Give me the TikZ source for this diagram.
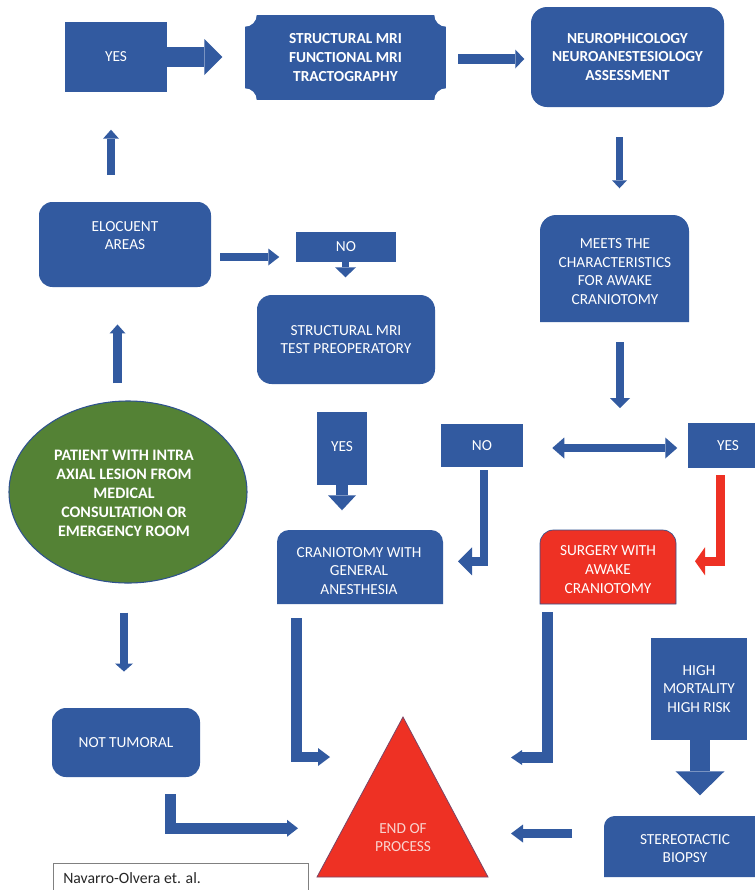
\documentclass[tikz,border=0pt]{standalone}
\usepackage{fontspec}
\setmainfont{Carlito}
\usetikzlibrary{arrows.meta,shapes.geometric,calc}
\definecolor{bl}{HTML}{325AA0}
\definecolor{bd}{HTML}{2F528F}
\definecolor{rd}{HTML}{EE3124}
\definecolor{gr}{HTML}{548235}
\definecolor{pk}{HTML}{F9D3CF}
\begin{document}
\begin{tikzpicture}[x=0.75pt,y=-0.75pt,
  lbl/.style={text=white, font=\fontsize{11.5}{14}\selectfont, align=center, inner sep=0pt},
  blbl/.style={lbl, font=\fontsize{12}{14.3}\selectfont\bfseries},
  sq/.style={lbl, fill=bl},
  rbox/.style={sq, rounded corners=#1},
  barrow/.style={draw=bl, line width=#1},
]
\useasboundingbox (0,0) rectangle (755,890);
\fill[white] (0,0) rectangle (755,890);
\clip (0,0) rectangle (755,890);

% ---------- boxes ----------
\node[sq, minimum width=76.5pt, minimum height=52.5pt] (yes1) at (116,57) {YES};

\node[sq, minimum width=150.75pt, minimum height=63.75pt, font=\fontsize{11.5}{14}\selectfont\bfseries] (smri) at (345.5,57.5) {STRUCTURAL MRI\\FUNCTIONAL MRI\\TRACTOGRAPHY};
\foreach \c in {north west, north east, south west, south east}
  \fill[white] (smri.\c) circle[radius=9pt];

\node[rbox=12pt, minimum width=144.75pt, minimum height=75pt, font=\fontsize{11.5}{14}\selectfont\bfseries] (neuro) at (627.5,57) {NEUROPHICOLOGY\\NEUROANESTESIOLOGY\\ASSESSMENT};

\node[rbox=10pt, minimum width=129pt, minimum height=63.75pt] (eloc) at (125,244.5) {};
\node[lbl] (elocT) at (125,235.5) {ELOCUENT\\AREAS};

\node[sq, minimum width=75pt, minimum height=22.5pt] (no1) at (346,247) {NO};

\node[rbox=11pt, minimum width=133.5pt, minimum height=66.75pt] (smritest) at (346,339.5) {STRUCTURAL MRI\\TEST PREOPERATORY};

\fill[bl] (540,322) [rounded corners=12pt] -- (540,215) -- (689,215) [sharp corners] -- (689,322) -- cycle;
\node[lbl] (meets) at (615,271.5) {MEETS THE\\CHARACTERISTICS\\FOR AWAKE\\CRANIOTOMY};

\node[ellipse, fill=gr, draw=bd, line width=0.8pt, minimum width=178.5pt, minimum height=136.5pt, inner sep=0pt] (patient) at (128,492) {};
\node[blbl] (patientT) at (124,493) {PATIENT WITH INTRA\\AXIAL LESION FROM\\MEDICAL\\CONSULTATION OR\\EMERGENCY ROOM};

\node[sq, minimum width=37.5pt, minimum height=54.75pt, text depth=0pt] (yes2) at (342,448.5) {\raisebox{3pt}{YES}};

\node[sq, minimum width=61.5pt, minimum height=32.25pt] (no2) at (482,445.5) {NO};
\node[sq, minimum width=60pt, minimum height=33.75pt] (yes3) at (728,445.5) {YES};

\fill[bl] (277,604) [rounded corners=9pt] -- (277,530) -- (443,530) [sharp corners] -- (443,604) -- cycle;
\node[lbl] (cran) at (359,571) {CRANIOTOMY WITH\\GENERAL\\ANESTHESIA};

\filldraw[fill=rd, draw=bd, line width=0.5pt] (540,604) [rounded corners=10pt] -- (540,530) -- (676,530) [sharp corners] -- (676,604) -- cycle;
\node[lbl] (surgery) at (608,569.5) {SURGERY WITH\\AWAKE\\CRANIOTOMY};

\node[sq, minimum width=72pt, minimum height=76.5pt] (high) at (699,689) {HIGH\\MORTALITY\\HIGH RISK};

\node[rbox=10.5pt, minimum width=111pt, minimum height=51.75pt] (notum) at (126,742.5) {NOT TUMORAL};

\fill[bl] (604,877) [rounded corners=8pt] -- (604,816) -- (770,816) [sharp corners] -- (770,877) -- cycle;
\node[lbl] (stereo) at (685,848.5) {STEREOTACTIC\\BIOPSY};

\coordinate (tA) at (403,717);
\coordinate (tB) at (488,877);
\coordinate (tC) at (317,877);
\filldraw[fill=rd, draw=bd!60!rd, line width=0.6pt] (tA) -- (tB) -- (tC) -- cycle;
\node[lbl, text=pk] (endp) at (403,837.5) {END OF\\PROCESS};

\draw[gray, line width=0.6pt] (53,863) rectangle (308,905);
\node[anchor=west, inner sep=0pt, font=\fontsize{11.8}{14}\selectfont, text=black!85] (cite) at (63,878) {Navarro-Olvera et. al.};

% ---------- block arrows ----------
\draw[barrow=15pt, -{Triangle[length=13.5pt, width=27pt, line width=0pt]}] (yes1.east) -- ++(55,0);
\draw[barrow=7.5pt, -{Triangle[length=6.75pt, width=14.25pt, line width=0pt]}] ($(smri.east)+(12,1.5)$) -- ++(66,0);
\draw[barrow=5.6pt, -{Triangle[length=6pt, width=11.25pt, line width=0pt]}] ($(neuro.south)+(-8,30)$) -- ++(0,51);
\draw[barrow=6pt, -{Triangle[length=6.75pt, width=12pt, line width=0pt]}] ($(eloc.north)+(-14,-27)$) -- ++(0,-45);
\draw[barrow=6pt, -{Triangle[length=8.25pt, width=12.75pt, line width=0pt]}] ($(eloc.east)+(9,12.5)$) -- ++(59,0);
\draw[barrow=5.25pt, -{Triangle[length=7.5pt, width=15.75pt, line width=0pt]}] ($(no1.south)+(-0.5,0)$) -- ++(0,15);
\draw[barrow=6.75pt, -{Triangle[length=6.75pt, width=12pt, line width=0pt]}] ($(patient.north)+(-10.5,-17)$) -- ++(0,-59);
\draw[barrow=9pt, -{Triangle[length=11.25pt, width=21pt, line width=0pt]}] (yes2.south) -- ++(0,25);
\draw[barrow=7.9pt, -{Triangle[length=9pt, width=13.5pt, line width=0pt]}] ($(cran)+(-62.5,47)$) -- ++(0,139) -- ++(33.5,0);
\draw[barrow=6pt, -{Triangle[length=6pt, width=13.5pt, line width=0pt]}] ($(patient.south)+(-4,29)$) -- ++(0,59);
\draw[barrow=8.25pt, -{Triangle[length=8.25pt, width=12.75pt, line width=0pt]}] ($(notum.south)+(44,17)$) -- ++(0,34) -- ++(128,0);
\draw[barrow=8.25pt, -{Triangle[length=8.25pt, width=11.25pt, line width=0pt]}] ($(surgery)+(-61,42.5)$) -- ++(0,145.5) -- ++(-36,0);
\draw[barrow=15pt, -{Triangle[length=18pt, width=36.75pt, line width=0pt]}] ($(high.south)+(1,0)$) -- ++(0,55);
\draw[barrow=6.75pt, -{Triangle[length=9pt, width=13.5pt, line width=0pt]}] ($(stereo)+(-113,-15)$) -- ++(-61,0);
\draw[barrow=6pt, -{Triangle[length=7.5pt, width=15pt, line width=0pt]}] ($(meets)+(5,70.5)$) -- ++(0,66);
\draw[barrow=6pt, {Triangle[length=9pt, width=15.75pt, line width=0pt]}-{Triangle[length=9pt, width=15.75pt, line width=0pt]}] ($(no2.east)+(29,2.5)$) -- ++(125,0);
\draw[barrow=6.4pt, -{Triangle[length=10.5pt, width=21pt, line width=0pt]}] ($(no2.south)+(2,3)$) -- ++(0,91) -- ++(-26,0);
\draw[draw=rd, line width=6.75pt, -{Triangle[length=7.5pt, width=21pt, line width=0pt]}] ($(yes3.south)+(-7.5,7)$) -- ++(0,86) -- ++(-25.5,0);
\end{tikzpicture}
\end{document}
